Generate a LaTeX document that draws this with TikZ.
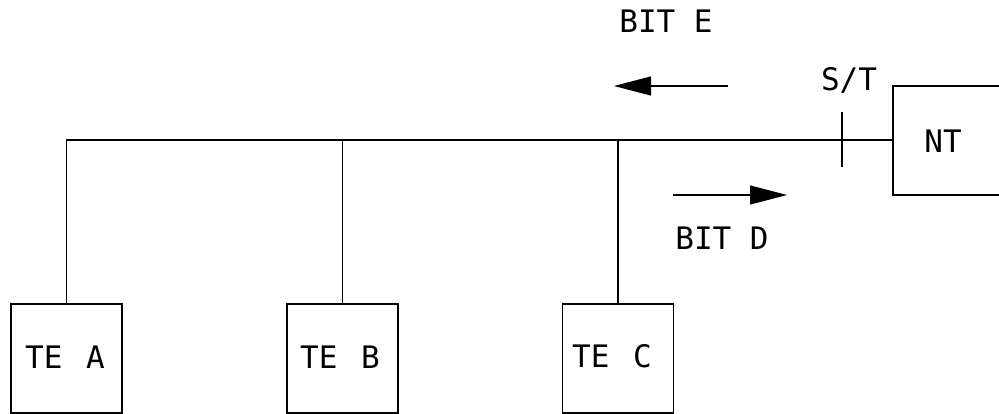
\documentclass[tikz,border=0pt]{standalone}
\usepackage{fontspec}
\newfontfamily\cadfont{DejaVu Sans Mono}
\usetikzlibrary{arrows.meta}
\begin{document}
\begin{tikzpicture}[x=1pt,y=-1pt,
  wire/.style={line width=1.1pt,line cap=rect},
  label/.style={font=\cadfont\fontsize{31}{31}\selectfont,inner sep=0pt,anchor=center},
  termbox/.style={draw,line width=1.1pt,minimum width=111pt,minimum height=109pt,inner sep=0pt},
  flow/.style={line width=1.1pt,-{Triangle[length=37pt,width=19pt]}}]
  \useasboundingbox (0,0) rectangle (999,414);

  % terminal equipment boxes
  \node[termbox] (tea) at (66.5,358.5) {};
  \node[termbox] (teb) at (342.5,358.5) {};
  \node[termbox] (tec) at (618,358.5) {};
  \node[label] (tealbl) at (65,357) {TE\ \hspace{5pt}A};
  \node[label] (teblbl) at (340,357) {TE\ \hspace{5pt}B};
  \node[label] (teclbl) at (612,356) {TE\ \hspace{5pt}C};

  % bus taps and the network termination
  \coordinate (tapa) at (tea.north |- 0,140);
  \coordinate (tapb) at (teb.north |- 0,140);
  \coordinate (tapc) at (tec.north |- 0,140);
  \coordinate (ntw) at (893,140);
  \coordinate (nttl) at (893,86);
  \coordinate (ntbl) at (893,195);
  \coordinate (nttr) at (999,86);
  \coordinate (ntbr) at (999,195);
  \node[label] (ntlbl) at (943,141) {NT};

  \draw[wire] (tapa) -- (ntw);
  \draw[wire] (tapa) -- (tea.north);
  \draw[wire] (tapb) -- (teb.north);
  \draw[wire] (tapc) -- (tec.north);
  \draw[wire,line cap=butt] (nttr) -- (nttl) -- (ntbl) -- (ntbr);

  % S/T reference point
  \coordinate (stt) at (842,113);
  \coordinate (stb) at (842,166);
  \draw[wire] (stt) -- (stb);
  \node[label] (stlbl) at (849,80) {S/T};

  % echo and data bit directions
  \coordinate (ebeg) at (728,86);
  \coordinate (eend) at (614,86);
  \draw[flow] (ebeg) -- (eend);
  \node[label] (elbl) at (666,21) {BIT\ E};

  \coordinate (dbeg) at (673,195);
  \coordinate (dend) at (787,195);
  \draw[flow] (dbeg) -- (dend);
  \node[label] (dlbl) at (722,238) {BIT\ D};
\end{tikzpicture}
\end{document}
